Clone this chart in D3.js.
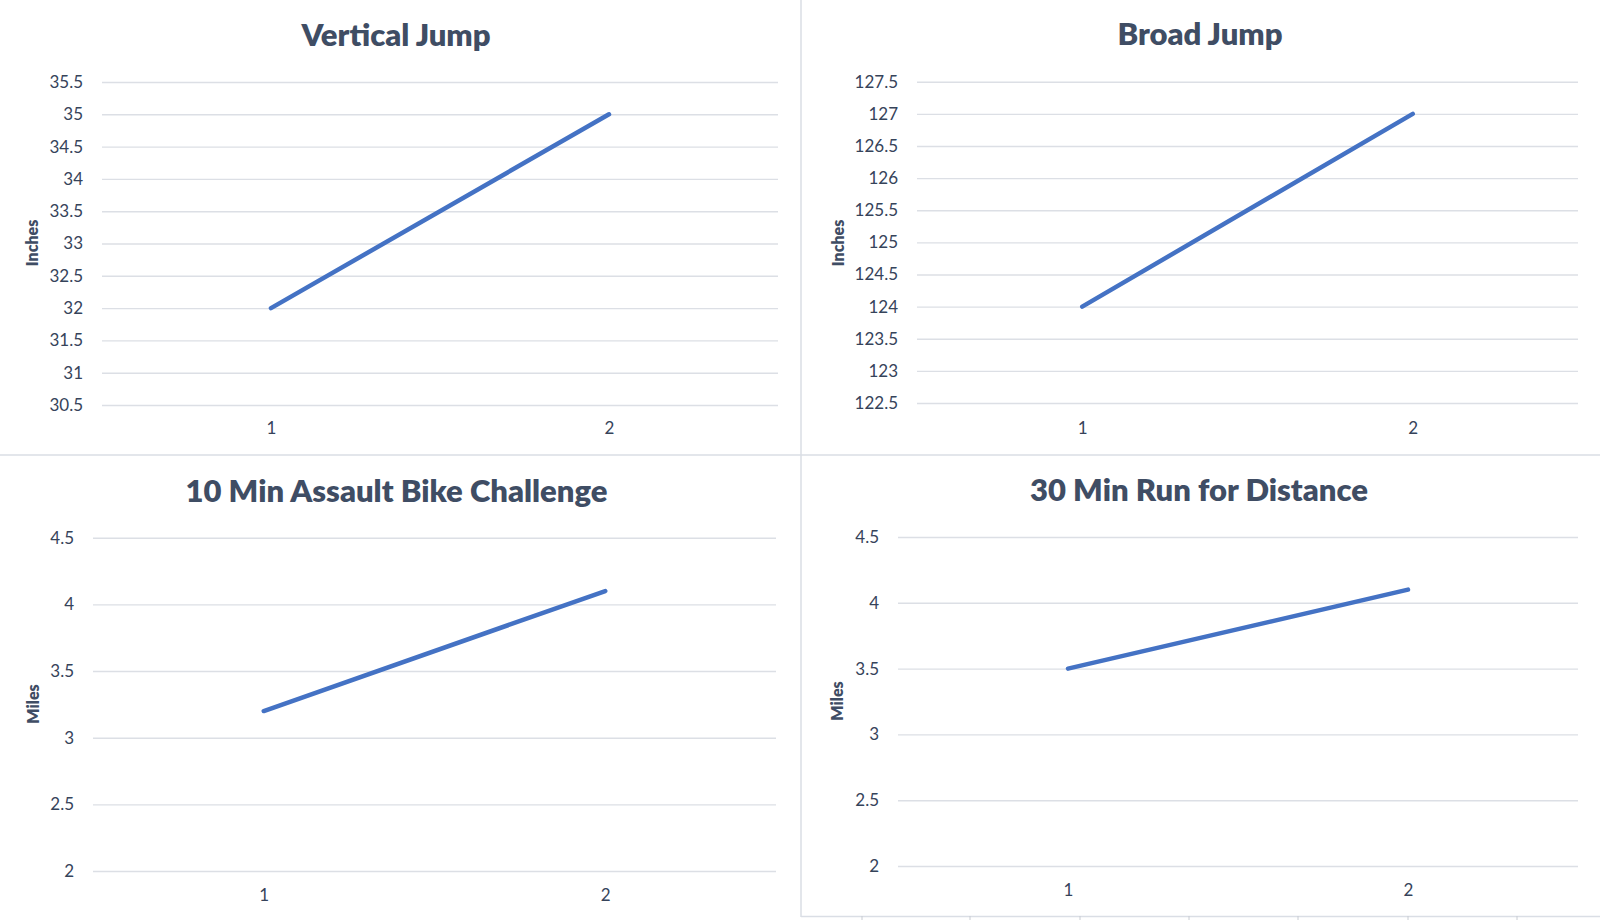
<!DOCTYPE html>
<html>
<head>
<meta charset="utf-8">
<script src="https://cdn.jsdelivr.net/npm/d3@7"></script>
<style>
  html, body { margin: 0; padding: 0; background: #ffffff; }
  svg { display: block; }
</style>
</head>
<body>
<svg id="chart" width="1600" height="920"></svg>
<script>
// ---- data ----
const categories = ["1", "2"];

const verticalJumpTitle = "Vertical Jump";
const verticalJumpValues = [32, 35];
const verticalJumpTicks = [30.5, 31, 31.5, 32, 32.5, 33, 33.5, 34, 34.5, 35, 35.5];
const verticalJumpUnit = "Inches";

const broadJumpTitle = "Broad Jump";
const broadJumpValues = [124, 127];
const broadJumpTicks = [122.5, 123, 123.5, 124, 124.5, 125, 125.5, 126, 126.5, 127, 127.5];
const broadJumpUnit = "Inches";

const bikeTitle = "10 Min Assault Bike Challenge";
const bikeValues = [3.2, 4.1];
const bikeTicks = [2, 2.5, 3, 3.5, 4, 4.5];
const bikeUnit = "Miles";

const runTitle = "30 Min Run for Distance";
const runValues = [3.5, 4.1];
const runTicks = [2, 2.5, 3, 3.5, 4, 4.5];
const runUnit = "Miles";

// ---- layout (pixel geometry of each panel) ----
const panels = [
  { title: verticalJumpTitle, values: verticalJumpValues, ticks: verticalJumpTicks, unit: verticalJumpUnit,
    x0: 102, x1: 778, yTop: 82, yBot: 405, titleX: 396, titleY: 46, unitX: 32, unitY: 243, xLabY: 428 },
  { title: broadJumpTitle, values: broadJumpValues, ticks: broadJumpTicks, unit: broadJumpUnit,
    x0: 917, x1: 1578, yTop: 81.7, yBot: 403, titleX: 1200, titleY: 45, unitX: 838, unitY: 243, xLabY: 428 },
  { title: bikeTitle, values: bikeValues, ticks: bikeTicks, unit: bikeUnit,
    x0: 93, x1: 776, yTop: 537.7, yBot: 871, titleX: 396.5, titleY: 501.5, unitX: 33, unitY: 704, xLabY: 895 },
  { title: runTitle, values: runValues, ticks: runTicks, unit: runUnit,
    x0: 898, x1: 1578, yTop: 537, yBot: 866, titleX: 1199, titleY: 501, unitX: 837, unitY: 701, xLabY: 890 }
];

const FONT = "Lato, 'Open Sans', 'Noto Sans', sans-serif";
const TITLE_COLOR = "#3f4d64";
const TEXT_COLOR = "#36435a";
const GRID_COLOR = "#dcdfe5";
const LINE_COLOR = "#4472C4";

const svg = d3.select("#chart");

// frame / separators
const sepColor = "#dadee5";
svg.append("line").attr("x1", 801).attr("x2", 801).attr("y1", 0).attr("y2", 917)
  .attr("stroke", sepColor).attr("stroke-width", 1.5);
svg.append("line").attr("x1", 0).attr("x2", 1600).attr("y1", 455).attr("y2", 455)
  .attr("stroke", sepColor).attr("stroke-width", 1.5);
svg.append("line").attr("x1", 801).attr("x2", 1600).attr("y1", 916.5).attr("y2", 916.5)
  .attr("stroke", sepColor).attr("stroke-width", 1.5);
const cellBorders = [862, 970, 1080, 1189, 1298, 1408, 1517];
svg.selectAll("line.cell").data(cellBorders).join("line")
  .attr("class", "cell")
  .attr("x1", d => d).attr("x2", d => d).attr("y1", 916).attr("y2", 920)
  .attr("stroke", "#c8ccd3").attr("stroke-width", 1);

panels.forEach(p => {
  const g = svg.append("g");
  const ext = d3.extent(p.ticks);
  const y = d3.scaleLinear().domain(ext).range([p.yBot, p.yTop]);
  const x = d3.scalePoint().domain(categories).range([p.x0, p.x1]).padding(0.5);

  // gridlines via axis
  const yAxis = d3.axisLeft(y).tickValues(p.ticks)
    .tickSize(-(p.x1 - p.x0)).tickPadding(19).tickFormat(d => String(d));
  const ay = g.append("g").attr("transform", `translate(${p.x0},0)`).call(yAxis);
  ay.select(".domain").remove();
  ay.selectAll(".tick line").attr("stroke", GRID_COLOR).attr("stroke-width", 1.4);
  ay.selectAll(".tick text").attr("fill", TEXT_COLOR)
    .style("font-family", FONT).style("font-size", "17px");

  // x axis labels
  const xAxis = d3.axisBottom(x).tickSize(0).tickPadding(0);
  const ax = g.append("g").attr("transform", `translate(0,${p.xLabY})`).call(xAxis);
  ax.select(".domain").remove();
  ax.selectAll(".tick text").attr("fill", TEXT_COLOR).attr("y", 0).attr("dy", "0.35em")
    .style("font-family", FONT).style("font-size", "17px");

  // line
  const line = d3.line().x((d, i) => x(categories[i])).y(d => y(d));
  g.append("path").datum(p.values)
    .attr("d", line)
    .attr("fill", "none")
    .attr("stroke", LINE_COLOR)
    .attr("stroke-width", 4.5)
    .attr("stroke-linecap", "round")
    .attr("stroke-linejoin", "round");

  // title
  g.append("text").text(p.title)
    .attr("x", p.titleX).attr("y", p.titleY)
    .attr("text-anchor", "middle")
    .attr("fill", TITLE_COLOR)
    .style("font-family", FONT).style("font-weight", "800").style("font-size", "31px");

  // axis title
  g.append("text").text(p.unit)
    .attr("transform", `translate(${p.unitX},${p.unitY}) rotate(-90)`)
    .attr("text-anchor", "middle").attr("dy", "0.35em")
    .attr("fill", TITLE_COLOR)
    .style("font-family", FONT).style("font-weight", "800").style("font-size", "16px");
});
</script>
</body>
</html>
